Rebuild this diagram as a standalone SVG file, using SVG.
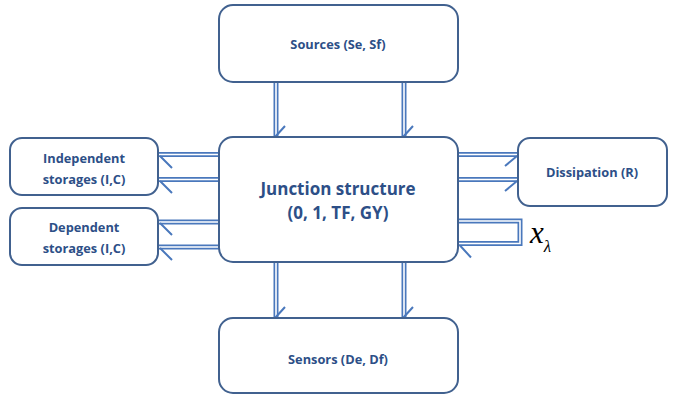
<svg xmlns="http://www.w3.org/2000/svg" width="678" height="398" viewBox="0 0 678 398">
<style>
.box{fill:#fff;stroke:#41618f;stroke-width:2}
.t{font-family:"Open Sans","Liberation Sans",sans-serif;font-weight:bold;fill:#2d4f87;text-anchor:middle}
.s{font-size:12.8px}
.bo{fill:none;stroke:#4a78bc;stroke-width:5;stroke-linejoin:miter}
.bi{fill:none;stroke:#fff;stroke-width:1.6;stroke-linejoin:miter}
.barb{fill:none;stroke:#4a78bc;stroke-width:2}
</style>
<rect width="678" height="398" fill="#fff"/>
<g id="connectors">
<path class="bo" d="M276,82V136M404,82V136M276,262V317M404,262V317M219,154.5H159M219,179.5H159M219,222H159M219,247H159M458,154.5H517M458,179.5H517M458,221H520V243.5H459"/>
<path class="bi" d="M276,82V136M404,82V136M276,262V317M404,262V317M219,154.5H159M219,179.5H159M219,222H159M219,247H159M458,154.5H517M458,179.5H517M458,221H520V243.5H459"/>
<path class="barb" d="M275,137L285,126M403,137L413,126M275,318L285,307M403,318L413,307M160,156L172,168M160,181L172,193M160,223L172,235M160,248L172,260M517,156L505,166M517,181L505,191M460,245.5L471,257.5"/>
</g>
<g id="sources"><rect class="box" x="219" y="5" width="239" height="77" rx="14"/><text class="t s" x="338" y="49">Sources (Se, Sf)</text></g>
<g id="junction"><rect class="box" x="219" y="137" width="239" height="125" rx="14"/><text class="t" x="338" y="195" font-size="17">Junction structure</text><text class="t" x="338" y="219" font-size="17">(0, 1, TF, GY)</text></g>
<g id="sensors"><rect class="box" x="219" y="318" width="239" height="75" rx="14"/><text class="t s" x="338" y="364">Sensors (De, Df)</text></g>
<g id="indep"><rect class="box" x="10" y="138" width="148" height="57" rx="12"/><text class="t s" x="84" y="163">Independent</text><text class="t s" x="84" y="184">storages (I,C)</text></g>
<g id="dep"><rect class="box" x="10" y="208" width="148" height="57" rx="12"/><text class="t s" x="84" y="232">Dependent</text><text class="t s" x="84" y="253">storages (I,C)</text></g>
<g id="dissipation"><rect class="box" x="518" y="138" width="149" height="68" rx="12"/><text class="t s" x="592" y="177">Dissipation (R)</text></g>
<g id="label"><text x="530" y="243" font-family="Liberation Serif,serif" font-style="italic" font-size="31" fill="#000">x<tspan font-size="17" dy="9">λ</tspan></text></g>
</svg>
